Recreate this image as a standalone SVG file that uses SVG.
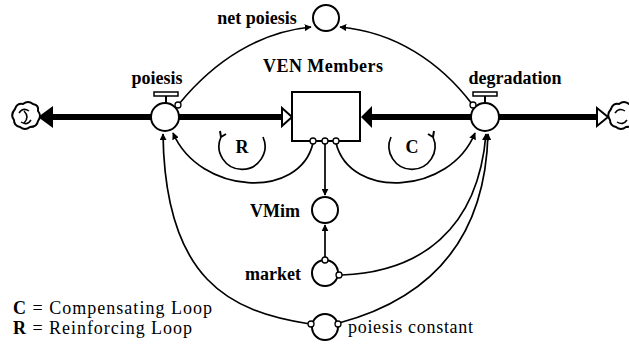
<svg xmlns="http://www.w3.org/2000/svg" width="629" height="345" viewBox="0 0 629 345">
  <style>
    text { font-family: 'Liberation Serif', 'DejaVu Serif', serif; font-size: 18px; fill: #000; }
    .lbl { font-weight: bold; }
    .node { fill: #fff; stroke: #000; stroke-width: 2; }
    .pipe { stroke: #000; stroke-width: 6; fill: none; }
    .link { stroke: #000; stroke-width: 1.7; fill: none; }
    .dot { fill: #fff; stroke: #000; stroke-width: 1.3; }
    .cloud { fill: #fff; stroke: #000; stroke-width: 2; }
  </style>
  <defs>
    <marker id="ah" viewBox="0 0 10 10" refX="9" refY="5" markerWidth="7" markerHeight="7" markerUnits="userSpaceOnUse" orient="auto">
      <path d="M0,0 L10,5 L0,10 z" fill="#000"/>
    </marker>
  </defs>
  <rect width="629" height="345" fill="#fff"/>

  <!-- flow pipes with their arrowheads -->
  <g id="pipes">
    <line class="pipe" x1="50" y1="117" x2="152" y2="117"/>
    <line class="pipe" x1="178" y1="117" x2="282" y2="117"/>
    <line class="pipe" x1="369" y1="117" x2="472" y2="117"/>
    <line class="pipe" x1="498" y1="117" x2="598" y2="117"/>
    <polygon points="38,117 53,106 53,128" fill="#000"/>
    <polygon points="292,117 282,108 282,126" fill="#fff" stroke="#000" stroke-width="2"/>
    <polygon points="361,117 372,106 372,128" fill="#000"/>
    <polygon points="608,117 597,108 597,126" fill="#fff" stroke="#000" stroke-width="2"/>
  </g>

  <!-- information links -->
  <g id="connectors">
    <path class="link" d="M179,104 C215,60 260,32 311,27" marker-end="url(#ah)"/>
    <path class="link" d="M472,104 C440,62 395,32 340,27" marker-end="url(#ah)"/>
    <path class="link" d="M313,143 C300,200 200,195 173,133" marker-end="url(#ah)"/>
    <path class="link" d="M336,143 C350,200 450,195 475,133" marker-end="url(#ah)"/>
    <path class="link" d="M325,144 L325,195" marker-end="url(#ah)"/>
    <path class="link" d="M325,257 L325,225" marker-end="url(#ah)"/>
    <path class="link" d="M342,275 C420,272 478,230 486,134" marker-end="url(#ah)"/>
    <path class="link" d="M339,323 C425,300 485,245 488,134" marker-end="url(#ah)"/>
    <path class="link" d="M310,324 C230,312 165,280 163,134" marker-end="url(#ah)"/>
  </g>

  <g id="cloud-source">
    <path class="cloud" d="M15,109 q2,-6 8,-5 q5,-4 10,0 q6,1 5,7 q4,5 0,10 q-1,6 -8,6 q-5,4 -10,0 q-6,-1 -6,-7 q-4,-5 1,-11 z"/>
    <path d="M19,113 q4,-6 10,-2 M31,120 q-4,6 -10,2 M24,111 q6,6 0,12" fill="none" stroke="#000" stroke-width="1.5"/>
  </g>
  <g id="cloud-sink">
    <path class="cloud" d="M611,109 q2,-6 8,-5 q5,-4 10,0 q6,1 5,7 q4,5 0,10 q-1,6 -8,6 q-5,4 -10,0 q-6,-1 -6,-7 q-4,-5 1,-11 z"/>
    <path d="M615,113 q4,-6 10,-2 M627,120 q-4,6 -10,2" fill="none" stroke="#000" stroke-width="1.5"/>
  </g>

  <g id="poiesis">
    <circle class="node" cx="165" cy="117" r="14"/>
    <rect x="154" y="92" width="24" height="4" fill="#fff" stroke="#000" stroke-width="1.5"/>
    <line x1="166" y1="96" x2="166" y2="103" stroke="#000" stroke-width="2"/>
    <circle class="dot" cx="178" cy="105" r="3"/>
    <text class="lbl" x="157" y="84" text-anchor="middle">poiesis</text>
  </g>

  <g id="degradation">
    <circle class="node" cx="485" cy="117" r="14"/>
    <rect x="473" y="92" width="24" height="4" fill="#fff" stroke="#000" stroke-width="1.5"/>
    <line x1="485" y1="96" x2="485" y2="103" stroke="#000" stroke-width="2"/>
    <circle class="dot" cx="473" cy="105" r="3"/>
    <text class="lbl" x="515" y="84" text-anchor="middle">degradation</text>
  </g>

  <g id="ven-members">
    <rect class="node" x="292" y="92" width="68" height="49"/>
    <circle class="dot" cx="313" cy="141" r="3"/>
    <circle class="dot" cx="325" cy="141" r="3"/>
    <circle class="dot" cx="336" cy="141" r="3"/>
    <text class="lbl" x="263" y="72" textLength="120" lengthAdjust="spacing">VEN Members</text>
  </g>

  <g id="net-poiesis">
    <circle class="node" cx="326" cy="18" r="13"/>
    <text class="lbl" x="257" y="24" text-anchor="middle">net poiesis</text>
  </g>

  <g id="vmim">
    <circle class="node" cx="325" cy="210" r="13"/>
    <text class="lbl" x="275" y="217" text-anchor="middle">VMim</text>
  </g>

  <g id="market">
    <circle class="node" cx="325" cy="273" r="13"/>
    <circle class="dot" cx="325" cy="260" r="3"/>
    <circle class="dot" cx="339" cy="275" r="3"/>
    <text class="lbl" x="273" y="280" text-anchor="middle">market</text>
  </g>

  <g id="poiesis-constant">
    <circle class="node" cx="325" cy="327" r="13"/>
    <circle class="dot" cx="311" cy="324" r="3"/>
    <circle class="dot" cx="338" cy="324" r="3"/>
    <text x="348" y="333" textLength="125" lengthAdjust="spacing">poiesis constant</text>
  </g>

  <g id="loop-r">
    <path class="link" d="M263,137 A23,23 0 1 1 221,137" stroke-width="2"/>
    <path d="M221,137 l-1,-6 M221,137 l5,-3" stroke="#000" stroke-width="2" fill="none"/>
    <text class="lbl" x="242" y="153" text-anchor="middle">R</text>
  </g>

  <g id="loop-c">
    <path class="link" d="M391,137 A23,23 0 1 0 433,137" stroke-width="2"/>
    <path d="M433,137 l1,-6 M433,137 l-5,-3" stroke="#000" stroke-width="2" fill="none"/>
    <text class="lbl" x="412" y="153" text-anchor="middle">C</text>
  </g>

  <g id="legend">
    <text x="13" y="314" textLength="199" lengthAdjust="spacing"><tspan font-weight="bold">C</tspan> = Compensating Loop</text>
    <text x="13" y="334" textLength="179" lengthAdjust="spacing"><tspan font-weight="bold">R</tspan> = Reinforcing Loop</text>
  </g>
</svg>
